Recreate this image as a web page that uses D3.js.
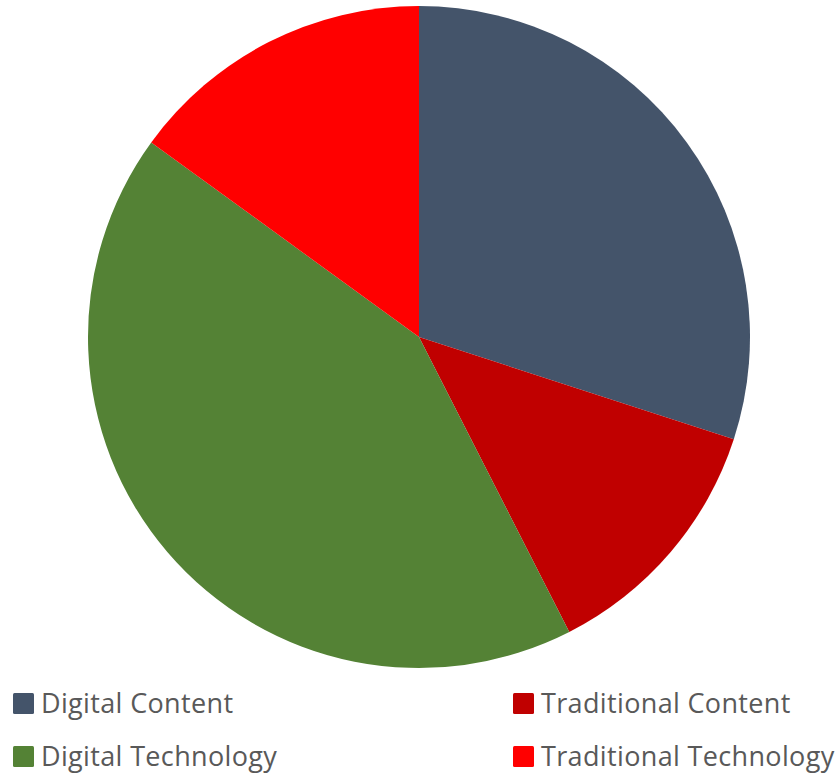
<!DOCTYPE html>
<html>
<head>
<meta charset="utf-8">
<script src="https://cdn.jsdelivr.net/npm/d3@7"></script>
<style>
  html, body { margin: 0; padding: 0; background: #fff; }
  svg { display: block; }
</style>
</head>
<body>
<svg id="chart" width="840" height="773"></svg>
<script>
// Share of each segment (percent)
const categories = ["Digital Content", "Traditional Content", "Digital Technology", "Traditional Technology"];
const values = [30, 12.5, 42.5, 15];
const colors = ["#44546A", "#C00000", "#548235", "#FF0000"];

const svg = d3.select("#chart");
const cx = 419, cy = 337, radius = 331;

const pie = d3.pie().sort(null).value(d => d.value);
const arc = d3.arc().innerRadius(0).outerRadius(radius);

const data = categories.map((c, i) => ({ name: c, value: values[i], color: colors[i] }));

svg.append("g")
  .attr("transform", `translate(${cx},${cy})`)
  .selectAll("path")
  .data(pie(data))
  .join("path")
  .attr("d", arc)
  .attr("fill", d => d.data.color);

// Legend: two columns, two rows
const legendX = [13, 513];
const legendY = [693, 746];
const legend = svg.append("g");
data.forEach((d, i) => {
  const col = i % 2, row = Math.floor(i / 2);
  const g = legend.append("g").attr("transform", `translate(${legendX[col]},${legendY[row]})`);
  g.append("rect")
    .attr("width", 21).attr("height", 21)
    .attr("rx", 1.5)
    .attr("fill", d.color);
  g.append("text")
    .attr("x", 28).attr("y", 20)
    .attr("font-family", "'Open Sans', sans-serif")
    .attr("font-size", 27)
    .attr("letter-spacing", 0.35)
    .attr("fill", "#595959")
    .text(d.name);
});
</script>
</body>
</html>
